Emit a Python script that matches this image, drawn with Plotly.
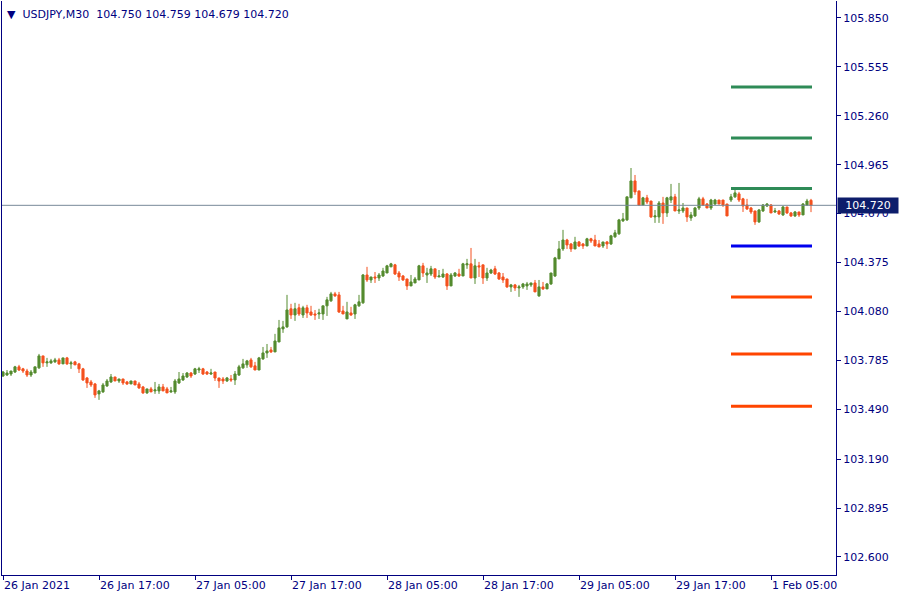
import plotly.graph_objects as go

opens = [
103.691,103.697,103.703,103.715,103.746,103.734,103.721,103.697,103.709,103.740,
103.812,103.770,103.770,103.776,103.788,103.764,103.800,103.764,103.776,103.764,
103.734,103.679,103.655,103.643,103.583,103.595,103.631,103.655,103.685,103.661,
103.673,103.655,103.643,103.661,103.643,103.625,103.589,103.613,103.601,103.601,
103.625,103.613,103.595,103.595,103.649,103.667,103.685,103.709,103.703,103.727,
103.734,103.715,103.703,103.715,103.679,103.673,103.661,103.673,103.667,103.697,
103.740,103.758,103.788,103.752,103.727,103.794,103.830,103.848,103.836,103.896,
103.975,103.987,104.096,104.059,104.102,104.059,104.102,104.077,104.065,104.065,
104.065,104.114,104.144,104.186,104.180,104.083,104.035,104.071,104.065,104.114,
104.132,104.300,104.270,104.288,104.282,104.294,104.312,104.349,104.361,104.312,
104.294,104.276,104.234,104.252,104.270,104.355,104.300,104.306,104.337,104.288,
104.288,104.306,104.234,104.294,104.306,104.294,104.361,104.367,104.282,104.355,
104.361,104.282,104.312,104.337,104.312,104.288,104.276,104.228,104.240,104.222,
104.228,104.234,104.240,104.252,104.174,104.228,104.216,104.246,104.294,104.397,
104.457,104.511,104.487,104.457,104.499,104.487,104.475,104.518,104.511,104.487,
104.475,104.499,104.487,104.530,104.548,104.626,104.632,104.765,104.867,104.807,
104.722,104.765,104.746,104.650,104.650,104.734,104.674,104.752,104.771,104.686,
104.686,104.704,104.644,104.656,104.704,104.759,104.728,104.704,104.728,104.752,
104.752,104.728,104.752,104.771,104.789,104.759,104.722,104.704,104.686,104.620,
104.686,104.716,104.722,104.680,104.686,104.662,104.710,104.674,104.656,104.680,
104.662,104.722,104.750]

highs = [
103.721,103.727,103.721,103.752,103.758,103.740,103.734,103.727,103.746,103.824,
103.812,103.800,103.794,103.800,103.800,103.800,103.806,103.782,103.782,103.770,
103.740,103.685,103.667,103.649,103.607,103.649,103.673,103.703,103.685,103.673,
103.673,103.661,103.661,103.661,103.655,103.631,103.613,103.625,103.655,103.643,
103.643,103.625,103.625,103.673,103.715,103.709,103.715,103.715,103.740,103.746,
103.740,103.721,103.734,103.715,103.679,103.685,103.685,103.697,103.721,103.758,
103.794,103.788,103.800,103.776,103.806,103.866,103.884,103.866,103.945,104.029,
104.023,104.180,104.126,104.132,104.126,104.114,104.120,104.114,104.089,104.096,
104.114,104.168,104.198,104.198,104.198,104.114,104.138,104.108,104.126,104.180,
104.306,104.349,104.288,104.318,104.312,104.343,104.361,104.373,104.367,104.324,
104.300,104.276,104.300,104.288,104.361,104.373,104.343,104.355,104.337,104.330,
104.337,104.312,104.312,104.318,104.337,104.373,104.397,104.463,104.397,104.379,
104.361,104.343,104.337,104.355,104.318,104.312,104.276,104.246,104.246,104.240,
104.252,104.258,104.252,104.270,104.270,104.258,104.252,104.312,104.409,104.505,
104.572,104.518,104.493,104.530,104.505,104.493,104.524,104.524,104.542,104.511,
104.499,104.505,104.542,104.572,104.638,104.674,104.771,104.945,104.903,104.807,
104.771,104.783,104.746,104.692,104.746,104.771,104.771,104.849,104.789,104.855,
104.734,104.704,104.680,104.710,104.771,104.771,104.734,104.759,104.759,104.752,
104.752,104.728,104.789,104.819,104.801,104.765,104.759,104.710,104.686,104.698,
104.728,104.734,104.728,104.704,104.692,104.716,104.710,104.680,104.686,104.680,
104.734,104.759,104.759]

lows = [
103.685,103.691,103.691,103.709,103.721,103.709,103.685,103.685,103.709,103.734,
103.746,103.746,103.764,103.770,103.758,103.764,103.758,103.734,103.758,103.709,
103.661,103.619,103.625,103.559,103.547,103.589,103.625,103.649,103.661,103.649,
103.637,103.637,103.643,103.637,103.613,103.583,103.583,103.595,103.583,103.583,
103.601,103.589,103.589,103.583,103.643,103.661,103.679,103.679,103.697,103.709,
103.697,103.697,103.697,103.661,103.619,103.643,103.655,103.655,103.637,103.691,
103.734,103.740,103.740,103.727,103.727,103.788,103.800,103.830,103.836,103.896,
103.951,103.981,104.035,104.023,104.053,104.041,104.041,104.053,104.029,104.035,
104.029,104.053,104.138,104.168,104.071,104.065,104.035,104.053,104.035,104.108,
104.126,104.258,104.252,104.252,104.264,104.288,104.312,104.349,104.300,104.264,
104.264,104.210,104.234,104.252,104.270,104.288,104.252,104.294,104.276,104.288,
104.282,104.210,104.234,104.288,104.288,104.294,104.337,104.282,104.246,104.288,
104.246,104.264,104.306,104.300,104.270,104.252,104.222,104.198,104.204,104.168,
104.216,104.210,104.228,104.198,104.168,104.210,104.216,104.240,104.288,104.397,
104.445,104.457,104.439,104.457,104.469,104.457,104.475,104.493,104.475,104.469,
104.463,104.457,104.481,104.524,104.542,104.620,104.626,104.765,104.783,104.716,
104.722,104.728,104.644,104.614,104.614,104.608,104.650,104.734,104.686,104.668,
104.674,104.620,104.626,104.650,104.692,104.716,104.704,104.692,104.722,104.728,
104.710,104.656,104.740,104.765,104.740,104.680,104.692,104.668,104.602,104.614,
104.680,104.710,104.674,104.674,104.662,104.656,104.668,104.650,104.650,104.650,
104.662,104.716,104.679]

closes = [
103.715,103.709,103.721,103.746,103.727,103.721,103.697,103.715,103.746,103.812,
103.770,103.776,103.782,103.788,103.764,103.800,103.764,103.770,103.758,103.734,
103.667,103.649,103.637,103.577,103.601,103.637,103.661,103.685,103.661,103.673,
103.649,103.643,103.661,103.637,103.619,103.589,103.613,103.595,103.607,103.625,
103.601,103.589,103.601,103.661,103.673,103.691,103.709,103.691,103.734,103.734,
103.703,103.703,103.709,103.679,103.661,103.661,103.679,103.667,103.703,103.746,
103.764,103.782,103.746,103.727,103.800,103.830,103.842,103.836,103.902,103.981,
103.987,104.089,104.059,104.096,104.065,104.102,104.071,104.059,104.059,104.071,
104.114,104.150,104.186,104.174,104.077,104.065,104.077,104.059,104.120,104.138,
104.300,104.270,104.288,104.282,104.300,104.324,104.355,104.367,104.306,104.288,
104.270,104.234,104.258,104.276,104.355,104.312,104.312,104.337,104.288,104.294,
104.306,104.234,104.300,104.312,104.294,104.367,104.367,104.282,104.355,104.349,
104.282,104.312,104.330,104.306,104.276,104.270,104.228,104.240,104.222,104.228,
104.246,104.246,104.252,104.198,104.228,104.216,104.246,104.312,104.403,104.457,
104.511,104.481,104.457,104.499,104.475,104.475,104.518,104.505,104.475,104.469,
104.499,104.487,104.536,104.554,104.632,104.638,104.771,104.867,104.801,104.722,
104.765,104.740,104.650,104.656,104.734,104.674,104.765,104.771,104.686,104.692,
104.704,104.650,104.662,104.704,104.759,104.722,104.704,104.752,104.752,104.728,
104.722,104.656,104.771,104.795,104.752,104.716,104.698,104.680,104.620,104.692,
104.722,104.728,104.674,104.686,104.668,104.710,104.674,104.656,104.680,104.662,
104.728,104.746,104.720]

# time axis labels every 24 bars (12 hours of M30)
tick_bars = [0, 24, 48, 72, 96, 120, 144, 168, 192]
tick_labels = ["26 Jan 2021", "26 Jan 17:00", "27 Jan 05:00", "27 Jan 17:00",
               "28 Jan 05:00", "28 Jan 17:00", "29 Jan 05:00", "29 Jan 17:00",
               "1 Feb 05:00"]

price_ticks = [102.600, 102.895, 103.190, 103.490, 103.785, 104.080,
               104.375, 104.670, 104.965, 105.260, 105.555, 105.850]

# pivot levels (R3..S3) drawn from the first bar of Monday
level_values = [105.434, 105.126, 104.821, 104.474, 104.167, 103.824, 103.509]
level_colors = ["#2e8b57", "#2e8b57", "#2e8b57", "#0000ee", "#ff4500", "#ff4500", "#ff4500"]
level_start_bar = 182
level_end_bar = 202.25

last_price = 104.720
header = "USDJPY,M30  104.750 104.759 104.679 104.720"

NAVY = "#000080"
UP = "#558b2f"
DOWN = "#f4511e"
FONT = "DejaVu Sans"

bars = list(range(len(opens)))

fig = go.Figure()

# current price line
fig.add_trace(go.Scatter(x=[-1, len(bars) + 10], y=[last_price, last_price], mode="lines",
                         line=dict(color="#778899", width=1), hoverinfo="skip", showlegend=False))

fig.add_trace(go.Candlestick(
    x=bars, open=opens, high=highs, low=lows, close=closes,
    increasing=dict(line=dict(color=UP, width=1), fillcolor=UP),
    decreasing=dict(line=dict(color=DOWN, width=1), fillcolor=DOWN),
    whiskerwidth=0, showlegend=False, hoverinfo="skip"))

for v, c in zip(level_values, level_colors):
    fig.add_trace(go.Scatter(x=[level_start_bar, level_end_bar], y=[v, v], mode="lines",
                             line=dict(color=c, width=3), hoverinfo="skip", showlegend=False))

fig.update_layout(
    width=900, height=600,
    margin=dict(l=2, r=64, t=1, b=25, autoexpand=False),
    paper_bgcolor="white", plot_bgcolor="white",
    font=dict(family=FONT, size=11, color=NAVY),
    showlegend=False,
    boxgap=0.25,
    xaxis=dict(range=[-0.25, 208.25], rangeslider=dict(visible=False), automargin=False,
               tickmode="array", tickvals=tick_bars, ticktext=tick_labels,
               ticks="outside", ticklen=4, tickcolor=NAVY, ticklabelposition="outside right",
               showgrid=False, zeroline=False, showline=True, linecolor=NAVY, linewidth=1,
               tickfont=dict(family=FONT, size=11, color=NAVY), fixedrange=True),
    yaxis=dict(range=[102.491, 105.952], side="right", automargin=False,
               tickmode="array", tickvals=price_ticks,
               ticktext=["%.3f" % v for v in price_ticks],
               ticks="outside", ticklen=4, tickcolor=NAVY,
               showgrid=False, zeroline=False, showline=True, linecolor=NAVY, linewidth=1,
               mirror=True,
               tickfont=dict(family=FONT, size=11, color=NAVY), fixedrange=True),
)

fig.add_annotation(xref="paper", yref="paper", x=0.004, y=0.992, xanchor="left", yanchor="top",
                   text="▼  " + header, showarrow=False,
                   font=dict(family=FONT, size=11, color=NAVY))

fig.add_annotation(xref="paper", yref="y", x=1.0, y=last_price, xanchor="left", yanchor="middle",
                   xshift=1, text="%.3f" % last_price, showarrow=False,
                   bgcolor="#0d1d6b", borderpad=1, width=58,
                   font=dict(family=FONT, size=11, color="white"))

fig.write_html("out.html", config={"displayModeBar": False},
               post_script="document.body.style.margin='0';")
